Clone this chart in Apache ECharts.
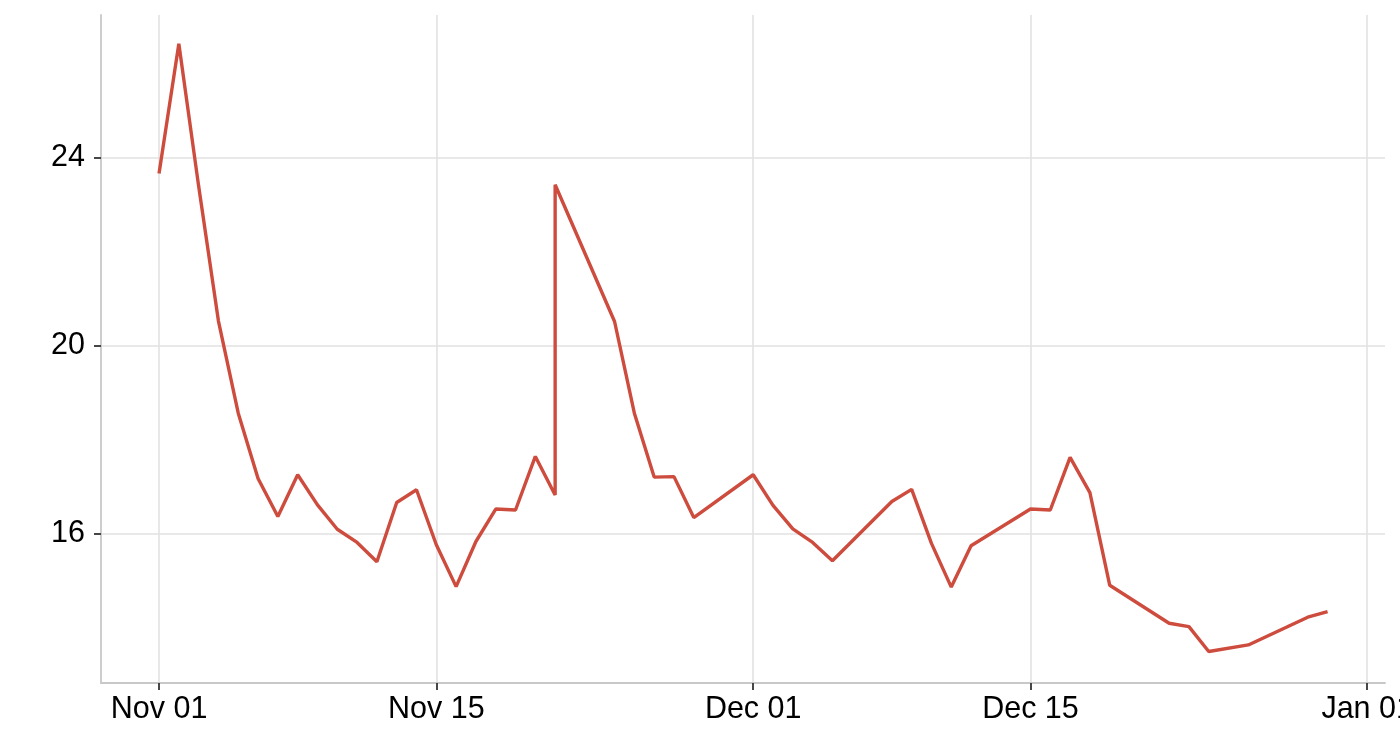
<!DOCTYPE html>
<html>
<head>
<meta charset="utf-8">
<title>Daily series, Nov - Dec</title>
<script src="https://cdn.jsdelivr.net/npm/echarts@6/dist/echarts.min.js"></script>
<style>
  html, body { margin: 0; padding: 0; background: #fff; }
  #chart { width: 1400px; height: 740px; }
</style>
</head>
<body>
<div id="chart"></div>
<script>
// dates of the observations (Nov 21 appears twice: the series jumps there)
const dates = [
  "2014-11-01", "2014-11-02", "2014-11-03", "2014-11-04", "2014-11-05",
  "2014-11-06", "2014-11-07", "2014-11-08", "2014-11-09", "2014-11-10",
  "2014-11-11", "2014-11-12", "2014-11-13", "2014-11-14", "2014-11-15",
  "2014-11-16", "2014-11-17", "2014-11-18", "2014-11-19", "2014-11-20",
  "2014-11-21", "2014-11-21", "2014-11-24", "2014-11-25", "2014-11-26",
  "2014-11-27", "2014-11-28", "2014-12-01", "2014-12-02", "2014-12-03",
  "2014-12-04", "2014-12-05", "2014-12-08", "2014-12-09", "2014-12-10",
  "2014-12-11", "2014-12-12", "2014-12-15", "2014-12-16", "2014-12-17",
  "2014-12-18", "2014-12-19", "2014-12-22", "2014-12-23", "2014-12-24",
  "2014-12-26", "2014-12-29", "2014-12-30"
];
const values = [
  23.67, 26.43, 23.40, 20.53, 18.57,
  17.18, 16.37, 17.26, 16.62, 16.10,
  15.82, 15.41, 16.67, 16.94, 15.77,
  14.88, 15.84, 16.53, 16.51, 17.65,
  16.83, 23.43, 20.52, 18.57, 17.21,
  17.22, 16.35, 17.26, 16.61, 16.11,
  15.82, 15.43, 16.69, 16.95, 15.80,
  14.87, 15.75, 16.53, 16.51, 17.63,
  16.88, 14.91, 14.10, 14.03, 13.50,
  13.64, 14.23, 14.35
];

// axis ticks
const xTicks = ["2014-11-01", "2014-11-15", "2014-12-01", "2014-12-15", "2015-01-01"];
const yTicks = [16, 20, 24];
const monthNames = ["Jan", "Feb", "Mar", "Apr", "May", "Jun", "Jul", "Aug", "Sep", "Oct", "Nov", "Dec"];

const DAY = 86400000;
const toTime = d => Date.parse(d + "T00:00:00Z");

// x is kept as a plain value axis of timestamps so the ticks can sit on the given dates
const xMin = toTime("2014-11-01") - 2.93 * DAY;
const xMax = toTime("2014-11-01") + 61.9 * DAY;

const chart = echarts.init(document.getElementById("chart"));

chart.setOption({
  animation: false,
  backgroundColor: "#fff",
  textStyle: { fontFamily: "Liberation Sans, Arial, sans-serif" },
  grid: {
    left: 101,
    right: 15,
    top: 15,
    bottom: 57,
    containLabel: false,
    outerBoundsMode: "none"
  },
  xAxis: {
    type: "value",
    min: xMin,
    max: xMax,
    axisLine: { show: true, lineStyle: { color: "#c8c8c8", width: 1.8 } },
    axisTick: {
      show: true,
      length: 7,
      lineStyle: { color: "#333", width: 1.8 },
      customValues: xTicks.map(toTime)
    },
    axisLabel: {
      color: "#000",
      fontSize: 30.5,
      margin: 11,
      hideOverlap: false,
      customValues: xTicks.map(toTime),
      formatter: v => {
        const d = new Date(v);
        return monthNames[d.getUTCMonth()] + " " + String(d.getUTCDate()).padStart(2, "0");
      }
    },
    splitLine: { show: true, lineStyle: { color: "#e2e2e2", width: 1.6 } }
  },
  yAxis: {
    type: "value",
    min: 12.83,
    max: 27.04,
    axisLine: { show: true, lineStyle: { color: "#c8c8c8", width: 1.8 } },
    axisTick: {
      show: true,
      length: 7,
      lineStyle: { color: "#333", width: 1.8 },
      customValues: yTicks
    },
    axisLabel: {
      color: "#000",
      fontSize: 30.5,
      margin: 16,
      padding: [5, 0, 0, 0],
      customValues: yTicks
    },
    splitLine: { show: true, lineStyle: { color: "#e2e2e2", width: 1.6 } }
  },
  series: [
    {
      type: "line",
      data: dates.map((d, i) => [toTime(d), values[i]]),
      showSymbol: false,
      lineStyle: { color: "#cd4c3e", width: 3.4 },
      itemStyle: { color: "#cd4c3e" }
    }
  ]
});
</script>
</body>
</html>
